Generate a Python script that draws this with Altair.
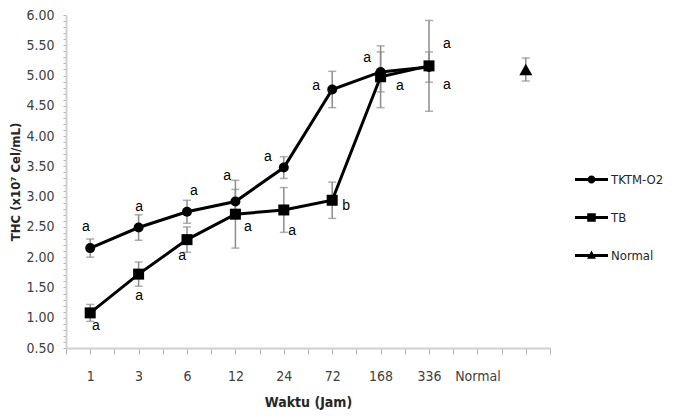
import altair as alt
import pandas as pd

# ---- data ----
x_labels = ['1', '3', '6', '12', '24', '72', '168', '336', 'Normal', '']
time_pos = [1, 2, 3, 4, 5, 6, 7, 8]

tktm_mean = [2.15, 2.49, 2.75, 2.92, 3.48, 4.77, 5.06, 5.14]
tktm_err = [0.15, 0.21, 0.19, 0.20, 0.18, 0.30, 0.33, 0.25]

tb_mean = [1.08, 1.72, 2.29, 2.71, 2.78, 2.94, 4.98, 5.16]
tb_err = [0.14, 0.20, 0.21, 0.56, 0.37, 0.30, 0.51, 0.75]

normal_pos = [10]
normal_mean = [5.10]
normal_err = [0.19]

series_names = ['TKTM-O2', 'TB', 'Normal']

# significance letters (position in category units / value units)
ann_letter = ['a', 'a', 'a', 'a', 'a', 'a', 'a', 'a',
              'a', 'a', 'a', 'a', 'a', 'b', 'a', 'a']
ann_x = [0.91, 2.01, 3.14, 3.83, 4.67, 5.67, 6.72, 8.37,
         1.12, 2.01, 2.90, 4.26, 5.17, 6.29, 7.40, 8.37]
ann_y = [2.50, 2.83, 3.09, 3.34, 3.65, 4.83, 5.29, 5.52,
         0.86, 1.36, 2.02, 2.50, 2.43, 2.85, 4.83, 4.84]

# ---- tables ----
rows = []
for p, m, e in zip(time_pos, tktm_mean, tktm_err):
    rows.append({'pos': p, 'mean': m, 'lo': m - e, 'hi': m + e, 'series': 'TKTM-O2'})
for p, m, e in zip(time_pos, tb_mean, tb_err):
    rows.append({'pos': p, 'mean': m, 'lo': m - e, 'hi': m + e, 'series': 'TB'})
for p, m, e in zip(normal_pos, normal_mean, normal_err):
    rows.append({'pos': p, 'mean': m, 'lo': m - e, 'hi': m + e, 'series': 'Normal'})
df = pd.DataFrame(rows)
ann = pd.DataFrame({'lx': ann_x, 'ly': ann_y, 'letter': ann_letter})

FONT = 'DejaVu Sans Condensed, Roboto, sans-serif'
label_arr = '[' + ','.join("'" + s + "'" for s in [''] + x_labels) + ']'

x_vals = [0.5 + 0.5 * i for i in range(21)]
y_vals = [round(0.5 + 0.1 * i, 1) for i in range(56)]

x_axis = alt.Axis(
    values=x_vals,
    labelExpr="datum.value % 1 == 0 ? " + label_arr + "[datum.value] : ''",
    title='Waktu (Jam)', grid=False, domainColor='#d0d0d0', domainWidth=2,
    tickColor='#b0b0b0', tickSize=6, labelPadding=15, labelFontSize=14,
    labelColor='#404040', labelFont=FONT, titleFont=FONT, titleFontSize=14,
    titleFontWeight='bold', titleColor='#262626', titlePadding=12, labelFlush=False,
    labelOverlap=False)
y_axis = alt.Axis(
    values=y_vals,
    labelExpr="abs(datum.value * 2 - round(datum.value * 2)) < 0.001 ? format(datum.value, '.2f') : ''",
    title='THC (x10\u2077 Cel/mL)', grid=False, domainColor='#d0d0d0', domainWidth=2,
    tickColor='#b0b0b0', tickSize=3, labelPadding=9, labelFontSize=14,
    labelColor='#404040', labelFont=FONT, titleFont=FONT, titleFontSize=13,
    titleFontWeight='bold', titleColor='#262626', titlePadding=3,
    labelOverlap=False, labelFlush=False)

x_scale = alt.Scale(domain=[0.5, 10.5], nice=False, zero=False)
y_scale = alt.Scale(domain=[0.5, 6.0], nice=False, zero=False)


def X(field):
    return alt.X(field + ':Q', scale=x_scale, axis=x_axis)


def Y(field):
    return alt.Y(field + ':Q', scale=y_scale, axis=y_axis)


base = alt.Chart(df)

errbar = base.mark_errorbar(
    ticks={'size': 8, 'thickness': 1.5, 'color': '#8c8c8c'},
    rule={'color': '#8c8c8c', 'strokeWidth': 1.5},
).encode(x=X('pos'), y=Y('lo'), y2='hi:Q')

lines = base.transform_filter("datum.series != 'Normal'").mark_line(
    color='black', strokeWidth=3
).encode(x=X('pos'), y=Y('mean'), detail='series:N')

pt_tktm = base.transform_filter("datum.series == 'TKTM-O2'").mark_point(
    shape='circle', filled=True, size=100, color='black', opacity=1
).encode(x=X('pos'), y=Y('mean'))
pt_tb = base.transform_filter("datum.series == 'TB'").mark_point(
    shape='square', filled=True, size=121, color='black', opacity=1
).encode(x=X('pos'), y=Y('mean'))
pt_norm = base.transform_filter("datum.series == 'Normal'").mark_point(
    shape='triangle-up', filled=True, size=170, color='black', opacity=1
).encode(x=X('pos'), y=Y('mean'))

letters = alt.Chart(ann).mark_text(
    font='Liberation Sans', fontSize=14, color='black', align='center', baseline='middle'
).encode(x=X('lx'), y=Y('ly'), text='letter:N')

line_bar = 'M-1,-0.09H1V0.09H-1Z '
legend_paths = [
    line_bar + 'M0.24,0A0.24,0.24,0,1,1,-0.24,0A0.24,0.24,0,1,1,0.24,0Z',
    line_bar + 'M-0.26,-0.26H0.26V0.26H-0.26Z',
    line_bar + 'M0,-0.3L0.27,0.2H-0.27Z',
]
legend_layer = base.transform_filter('false').mark_point(
    filled=True, size=1089, color='black', opacity=1
).encode(
    x=X('pos'), y=Y('mean'),
    shape=alt.Shape('series:N', scale=alt.Scale(domain=series_names, range=legend_paths),
                    legend=alt.Legend(title=None, orient='none', legendX=509, legendY=148,
                                      symbolSize=1089, symbolFillColor='black',
                                      symbolStrokeWidth=0, rowPadding=14, labelOffset=3,
                                      labelFont=FONT, labelFontSize=13, labelColor='#262626',
                                      padding=0))
)

chart = alt.layer(errbar, lines, pt_tktm, pt_tb, pt_norm, letters, legend_layer).properties(
    width=484, height=333,
    autosize=alt.AutoSizeParams(type='none'),
    padding={'left': 58, 'top': 7, 'right': 119, 'bottom': 62},
).configure_view(stroke=None)

chart.save('out.html', embed_options={'renderer': 'svg', 'actions': False})
